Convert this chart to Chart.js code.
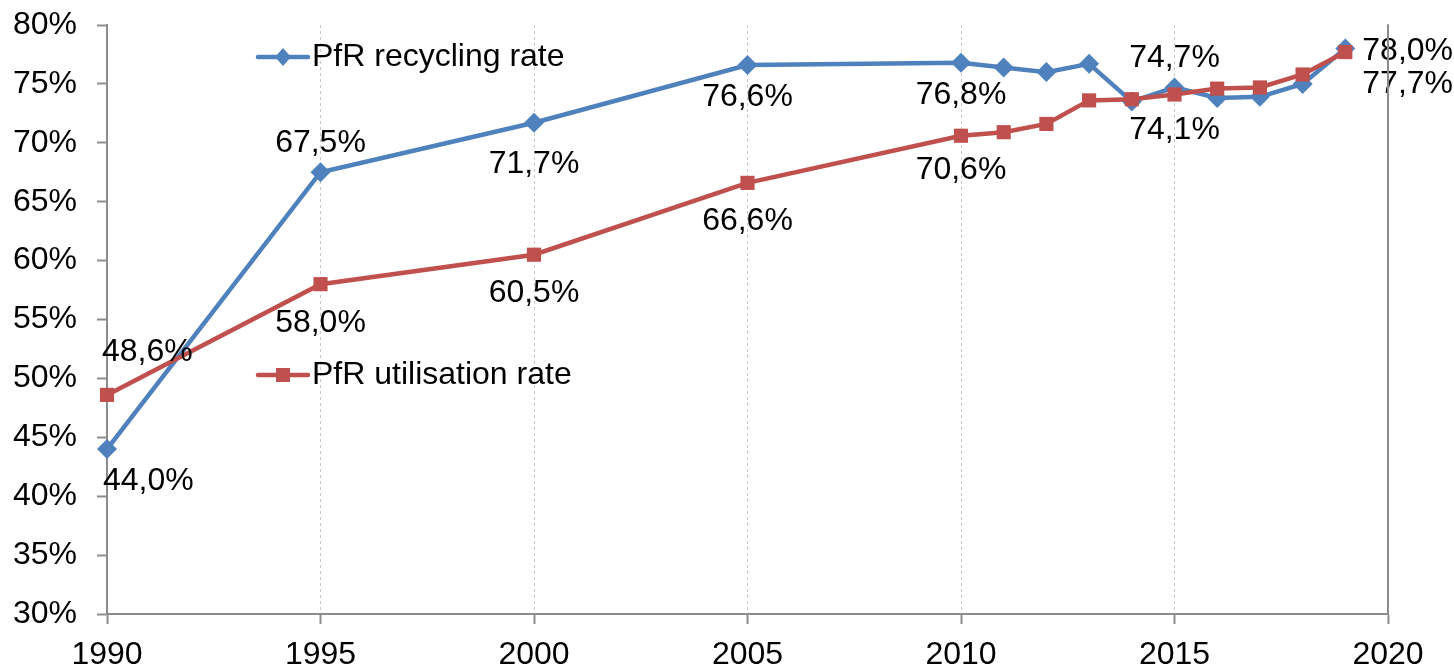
<!DOCTYPE html>
<html>
<head>
<meta charset="utf-8">
<script src="https://cdn.jsdelivr.net/npm/chart.js@4"></script>
<style>
  body { margin: 0; background: #fff; }
  #wrap { width: 1454px; height: 669px; position: relative; }
</style>
</head>
<body>
<div id="wrap"><canvas id="rates"></canvas></div>
<script>
var years = [1990, 1995, 2000, 2005, 2010, 2011, 2012, 2013, 2014, 2015, 2016, 2017, 2018, 2019];
var recycling = [44.0, 67.5, 71.7, 76.6, 76.8, 76.4, 76.0, 76.7, 73.5, 74.7, 73.8, 73.9, 75.0, 78.0];
var utilisation = [48.6, 58.0, 60.5, 66.6, 70.6, 70.9, 71.6, 73.6, 73.7, 74.1, 74.6, 74.7, 75.8, 77.7];
var seriesNames = ["PfR recycling rate", "PfR utilisation rate"];
var xTicks = [1990, 1995, 2000, 2005, 2010, 2015, 2020];
var yTicks = [30, 35, 40, 45, 50, 55, 60, 65, 70, 75, 80];

var BLUE = "#4F81BD";
var RED = "#C0504D";
var FONT = '"Liberation Sans", Arial, sans-serif';

function points(vals) {
  return years.map(function (y, i) { return { x: y, y: vals[i] }; });
}

// which points get a value label, and where it sits relative to the point
var labelSpots = [
  { ds: 0, i: 0, align: "left", dx: -4, dy: 32 },
  { ds: 0, i: 1, align: "center", dx: 0, dy: -29 },
  { ds: 0, i: 2, align: "center", dx: 0, dy: 41 },
  { ds: 0, i: 3, align: "center", dx: 0, dy: 32 },
  { ds: 0, i: 4, align: "center", dx: 0, dy: 32 },
  { ds: 0, i: 9, align: "center", dx: 0, dy: -29 },
  { ds: 0, i: 13, align: "left", dx: 17, dy: 3 },
  { ds: 1, i: 0, align: "left", dx: -5, dy: -43 },
  { ds: 1, i: 1, align: "center", dx: 0, dy: 39 },
  { ds: 1, i: 2, align: "center", dx: 0, dy: 38 },
  { ds: 1, i: 3, align: "center", dx: 0, dy: 38 },
  { ds: 1, i: 4, align: "center", dx: 0, dy: 34 },
  { ds: 1, i: 9, align: "center", dx: 0, dy: 36 },
  { ds: 1, i: 13, align: "left", dx: 17, dy: 32 }
];

var valueLabels = {
  id: "valueLabels",
  afterDatasetsDraw: function (chart) {
    var ctx = chart.ctx;
    ctx.save();
    ctx.font = "32px " + FONT;
    ctx.fillStyle = "#000";
    ctx.textBaseline = "middle";
    labelSpots.forEach(function (s) {
      var el = chart.getDatasetMeta(s.ds).data[s.i];
      var v = chart.data.datasets[s.ds].data[s.i].y;
      ctx.textAlign = s.align;
      ctx.fillText(v.toFixed(1).replace(".", ",") + "%", el.x + s.dx, el.y + s.dy);
    });
    ctx.restore();
  }
};

function marker(ctx, kind, x, y, color) {
  ctx.fillStyle = color;
  ctx.beginPath();
  if (kind === "diamond") {
    ctx.moveTo(x, y - 9); ctx.lineTo(x + 8, y); ctx.lineTo(x, y + 9); ctx.lineTo(x - 8, y);
  } else {
    ctx.rect(x - 7, y - 7, 14, 14);
  }
  ctx.closePath();
  ctx.fill();
}

var insideLegend = {
  id: "insideLegend",
  afterDraw: function (chart) {
    var ctx = chart.ctx;
    var items = [
      { name: seriesNames[0], color: BLUE, kind: "diamond", y: 57 },
      { name: seriesNames[1], color: RED, kind: "square", y: 375 }
    ];
    ctx.save();
    items.forEach(function (it) {
      ctx.strokeStyle = it.color;
      ctx.lineWidth = 4.5;
      ctx.lineCap = "round";
      ctx.beginPath();
      ctx.moveTo(258, it.y);
      ctx.lineTo(308, it.y);
      ctx.stroke();
      marker(ctx, it.kind, 283, it.y, it.color);
      ctx.fillStyle = "#000";
      ctx.font = "32px " + FONT;
      ctx.textAlign = "left";
      ctx.textBaseline = "middle";
      ctx.fillText(it.name, 312, it.y);
    });
    // right edge of plot area
    var a = chart.chartArea;
    ctx.strokeStyle = "#8c8c8c";
    ctx.lineWidth = 2;
    ctx.beginPath();
    ctx.moveTo(a.right, a.top);
    ctx.lineTo(a.right, a.bottom);
    ctx.stroke();
    ctx.restore();
  }
};

new Chart(document.getElementById("rates"), {
  type: "line",
  data: {
    datasets: [
      {
        label: seriesNames[0],
        data: points(recycling),
        borderColor: BLUE,
        backgroundColor: BLUE,
        borderWidth: 4.5,
        pointStyle: "rectRot",
        pointRadius: 10,
        pointBorderWidth: 0,
        tension: 0,
        clip: false,
        order: 2
      },
      {
        label: seriesNames[1],
        data: points(utilisation),
        borderColor: RED,
        backgroundColor: RED,
        borderWidth: 4.5,
        pointStyle: "rect",
        pointRadius: 10,
        pointBorderWidth: 0,
        tension: 0,
        clip: false,
        order: 1
      }
    ]
  },
  options: {
    responsive: true,
    maintainAspectRatio: false,
    animation: false,
    events: [],
    layout: { padding: { top: 25, right: 66, left: 0, bottom: 0 } },
    plugins: { legend: { display: false }, tooltip: { enabled: false } },
    scales: {
      x: {
        type: "linear",
        min: 1990,
        max: 2020,
        afterFit: function (s) {
          s.height = 55;
          s.paddingLeft = 0;
          s.paddingRight = 0;
        },
        afterBuildTicks: function (s) { s.ticks = xTicks.map(function (v) { return { value: v }; }); },
        ticks: {
          color: "#000",
          font: { size: 32, family: FONT },
          padding: 12,
          maxRotation: 0,
          callback: function (v) { return String(v); }
        },
        grid: {
          color: "#c8c8c8",
          lineWidth: 1,
          tickColor: "#8c8c8c",
          tickLength: 10,
          tickWidth: 2
        },
        border: { color: "#8c8c8c", width: 2, dash: [3, 3] }
      },
      y: {
        min: 30,
        max: 80,
        afterFit: function (s) {
          s.width = 107;
          s.paddingTop = 0;
          s.paddingBottom = 0;
        },
        afterBuildTicks: function (s) { s.ticks = yTicks.map(function (v) { return { value: v }; }); },
        ticks: {
          color: "#000",
          font: { size: 32, family: FONT },
          padding: 20,
          callback: function (v) { return v + "%"; }
        },
        grid: {
          drawOnChartArea: false,
          tickColor: "#8c8c8c",
          tickLength: 10,
          tickWidth: 2
        },
        border: { color: "#8c8c8c", width: 2 }
      }
    }
  },
  plugins: [valueLabels, insideLegend]
});
</script>
</body>
</html>
